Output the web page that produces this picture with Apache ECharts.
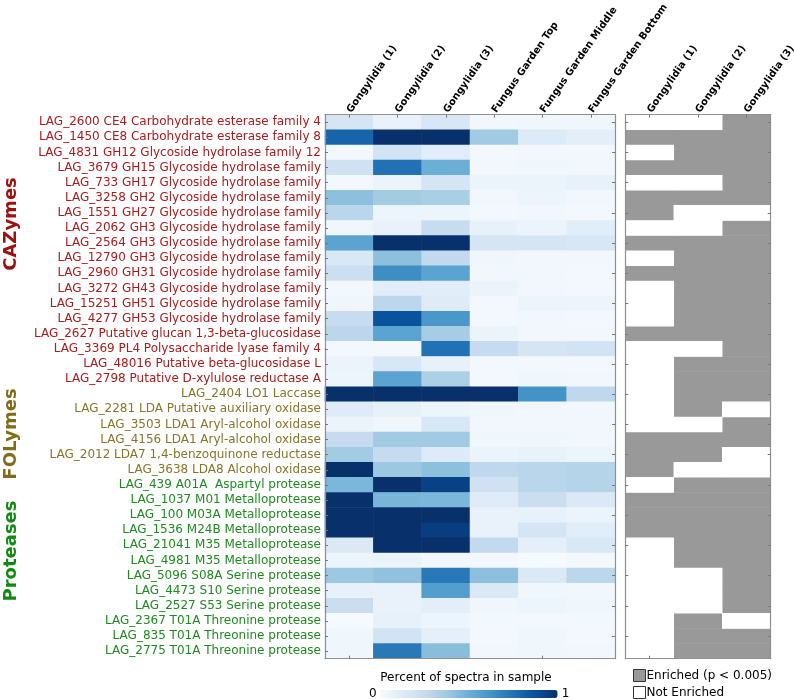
<!DOCTYPE html>
<html>
<head>
<meta charset="utf-8">
<script src="https://cdn.jsdelivr.net/npm/echarts@6/dist/echarts.min.js"></script>
<style>
  html, body { margin: 0; padding: 0; background: #fff; }
  #chart { width: 794px; height: 700px; }
</style>
</head>
<body>
<div id="chart"></div>
<script>
// row labels, top to bottom
const rowLabels = [
  'LAG_2600 CE4 Carbohydrate esterase family 4',
  'LAG_1450 CE8 Carbohydrate esterase family 8',
  'LAG_4831 GH12 Glycoside hydrolase family 12',
  'LAG_3679 GH15 Glycoside hydrolase family',
  'LAG_733 GH17 Glycoside hydrolase family',
  'LAG_3258 GH2 Glycoside hydrolase family',
  'LAG_1551 GH27 Glycoside hydrolase family',
  'LAG_2062 GH3 Glycoside hydrolase family',
  'LAG_2564 GH3 Glycoside hydrolase family',
  'LAG_12790 GH3 Glycoside hydrolase family',
  'LAG_2960 GH31 Glycoside hydrolase family',
  'LAG_3272 GH43 Glycoside hydrolase family',
  'LAG_15251 GH51 Glycoside hydrolase family',
  'LAG_4277 GH53 Glycoside hydrolase family',
  'LAG_2627 Putative glucan 1,3-beta-glucosidase',
  'LAG_3369 PL4 Polysaccharide lyase family 4',
  'LAG_48016 Putative beta-glucosidase L',
  'LAG_2798 Putative D-xylulose reductase A',
  'LAG_2404 LO1 Laccase',
  'LAG_2281 LDA Putative auxiliary oxidase',
  'LAG_3503 LDA1 Aryl-alcohol oxidase',
  'LAG_4156 LDA1 Aryl-alcohol oxidase',
  'LAG_2012 LDA7 1,4-benzoquinone reductase',
  'LAG_3638 LDA8 Alcohol oxidase',
  'LAG_439 A01A  Aspartyl protease',
  'LAG_1037 M01 Metalloprotease',
  'LAG_100 M03A Metalloprotease',
  'LAG_1536 M24B Metalloprotease',
  'LAG_21041 M35 Metalloprotease',
  'LAG_4981 M35 Metalloprotease',
  'LAG_5096 S08A Serine protease',
  'LAG_4473 S10 Serine protease',
  'LAG_2527 S53 Serine protease',
  'LAG_2367 T01A Threonine protease',
  'LAG_835 T01A Threonine protease',
  'LAG_2775 T01A Threonine protease'
]

const groupNames = ['CAZymes', 'FOLymes', 'Proteases']
const groupCounts = [18, 6, 12]
const groupLabelColors = ['#9e1010', '#7f6d1c', '#128a12']
const groupRowColors = ['#a81c1c', '#85752a', '#1f8a1f']

const sampleLabels = ['Gongylidia (1)', 'Gongylidia (2)', 'Gongylidia (3)',
  'Fungus Garden Top', 'Fungus Garden Middle', 'Fungus Garden Bottom']
const enrichLabels = ['Gongylidia (1)', 'Gongylidia (2)', 'Gongylidia (3)']

// percent of spectra in sample, one row per protein
const spectra = [
  [0.17, 0.07, 0.16, 0.03, 0.04, 0.04],
  [0.80, 1.00, 1.00, 0.37, 0.13, 0.10],
  [0.02, 0.19, 0.11, 0.02, 0.03, 0.03],
  [0.20, 0.75, 0.50, 0.03, 0.04, 0.03],
  [0.02, 0.06, 0.17, 0.06, 0.06, 0.08],
  [0.42, 0.36, 0.34, 0.03, 0.05, 0.03],
  [0.29, 0.05, 0.05, 0.02, 0.03, 0.02],
  [0.04, 0.07, 0.24, 0.08, 0.06, 0.11],
  [0.55, 1.00, 1.00, 0.17, 0.17, 0.16],
  [0.15, 0.42, 0.26, 0.04, 0.03, 0.03],
  [0.22, 0.64, 0.55, 0.03, 0.03, 0.02],
  [0.02, 0.11, 0.11, 0.06, 0.03, 0.02],
  [0.04, 0.28, 0.12, 0.02, 0.05, 0.05],
  [0.24, 0.87, 0.60, 0.02, 0.03, 0.02],
  [0.28, 0.55, 0.35, 0.06, 0.03, 0.03],
  [0.02, 0.02, 0.75, 0.25, 0.17, 0.19],
  [0.06, 0.16, 0.08, 0.02, 0.02, 0.02],
  [0.05, 0.55, 0.33, 0.02, 0.04, 0.03],
  [1.00, 1.00, 1.00, 1.00, 0.62, 0.27],
  [0.12, 0.08, 0.05, 0.04, 0.03, 0.03],
  [0.06, 0.04, 0.16, 0.03, 0.03, 0.03],
  [0.25, 0.37, 0.37, 0.04, 0.04, 0.03],
  [0.36, 0.25, 0.13, 0.06, 0.07, 0.05],
  [1.00, 0.38, 0.42, 0.27, 0.29, 0.30],
  [0.46, 1.00, 0.93, 0.20, 0.29, 0.30],
  [1.00, 0.47, 0.46, 0.12, 0.23, 0.14],
  [1.00, 1.00, 1.00, 0.07, 0.08, 0.06],
  [1.00, 1.00, 0.95, 0.07, 0.17, 0.11],
  [0.14, 1.00, 1.00, 0.26, 0.09, 0.15],
  [0.05, 0.06, 0.03, 0.02, 0.01, 0.02],
  [0.38, 0.41, 0.72, 0.42, 0.14, 0.28],
  [0.08, 0.07, 0.57, 0.14, 0.04, 0.03],
  [0.23, 0.07, 0.10, 0.04, 0.05, 0.04],
  [0.01, 0.08, 0.05, 0.02, 0.02, 0.02],
  [0.04, 0.19, 0.09, 0.02, 0.04, 0.02],
  [0.04, 0.72, 0.43, 0.03, 0.04, 0.03]
]

// 1 = enriched (p < 0.005)
const enriched = [
  [0, 0, 1], [1, 1, 1], [0, 1, 1], [1, 1, 1], [0, 0, 1], [1, 1, 1],
  [1, 0, 0], [0, 0, 1], [1, 1, 1], [0, 1, 1], [1, 1, 1], [0, 1, 1],
  [0, 1, 1], [0, 1, 1], [1, 1, 1], [0, 0, 1], [0, 1, 1], [0, 1, 1],
  [0, 1, 1], [0, 1, 0], [0, 0, 1], [1, 1, 1], [1, 1, 0], [1, 0, 0],
  [0, 1, 1], [1, 1, 1], [1, 1, 1], [1, 1, 1], [0, 1, 1], [0, 1, 1],
  [0, 0, 1], [0, 0, 1], [0, 0, 1], [0, 1, 0], [0, 1, 1], [0, 1, 1]
]

const blues = ['#f7fbff', '#deebf7', '#c6dbef', '#9ecae1', '#6baed6',
  '#4292c6', '#2171b5', '#08519c', '#08306b']

const rowGroup = []
groupCounts.forEach((n, g) => { for (let i = 0; i < n; i++) rowGroup.push(g) })

const heatData = []
spectra.forEach((row, r) => row.forEach((v, c) => heatData.push([c, r, v])))
const enrichedData = []
const notEnrichedData = []
enriched.forEach((row, r) => row.forEach((v, c) => {
  (v ? enrichedData : notEnrichedData).push([c, r, v])
}))

const frame = '#8f8f8f'
const tick = { show: true, inside: true, length: 3, alignWithLabel: true, lineStyle: { color: '#777' } }
const line = { show: true, lineStyle: { color: frame, width: 1.2 } }
const topLabel = { interval: 0, rotate: -55, margin: 3, fontSize: 10, fontWeight: 'bold', color: '#000' }

const chart = echarts.init(document.getElementById('chart'), null, { renderer: 'canvas' })

const option = {
  animation: false,
  backgroundColor: '#fff',
  textStyle: { fontFamily: 'DejaVu Sans' },
  grid: [
    { left: 325, top: 114.7, width: 290, height: 544, outerBoundsMode: 'none', containLabel: false },
    { left: 625.3, top: 114.7, width: 145.4, height: 544, outerBoundsMode: 'none', containLabel: false }
  ],
  xAxis: [
    {
      type: 'category', gridIndex: 0, position: 'top', data: sampleLabels, z: 10,
      axisLine: line, axisTick: tick, splitLine: { show: false }, axisLabel: topLabel
    },
    {
      type: 'category', gridIndex: 0, position: 'bottom', data: sampleLabels, z: 10,
      axisLine: line, axisTick: tick, axisLabel: { show: false }
    },
    {
      type: 'category', gridIndex: 1, position: 'top', data: enrichLabels, z: 10,
      axisLine: line, axisTick: tick, axisLabel: topLabel
    },
    {
      type: 'category', gridIndex: 1, position: 'bottom', data: enrichLabels, z: 10,
      axisLine: line, axisTick: tick, axisLabel: { show: false }
    }
  ],
  yAxis: [
    {
      type: 'category', gridIndex: 0, position: 'left', inverse: true, data: rowLabels, z: 10,
      axisLine: line, axisTick: tick,
      axisLabel: {
        interval: 0, margin: 4, fontSize: 12,
        color: (v, i) => groupRowColors[rowGroup[i]]
      }
    },
    {
      type: 'category', gridIndex: 0, position: 'right', inverse: true, data: rowLabels, z: 10,
      axisLine: line, axisTick: tick, axisLabel: { show: false }
    },
    {
      type: 'category', gridIndex: 1, position: 'left', inverse: true, data: rowLabels, z: 10,
      axisLine: line, axisTick: tick, axisLabel: { show: false }
    },
    {
      type: 'category', gridIndex: 1, position: 'right', inverse: true, data: rowLabels, z: 10,
      axisLine: line, axisTick: tick, axisLabel: { show: false }
    }
  ],
  visualMap: {
    type: 'continuous', seriesIndex: 0, min: 0, max: 1, calculable: false,
    orient: 'horizontal', left: 369, top: 688, padding: 0, itemWidth: 8, itemHeight: 177,
    text: ['1', '0'], textGap: 4, textStyle: { fontSize: 12, color: '#000' },
    inRange: { color: blues }
  },
  legend: {
    orient: 'vertical', left: 633, top: 669, itemWidth: 12, itemHeight: 12, itemGap: 4,
    padding: 0, icon: 'rect', textStyle: { fontSize: 12, color: '#000', padding: [0, 0, 0, -4] },
    data: [
      { name: 'Enriched (p < 0.005)', itemStyle: { color: '#999', borderColor: '#333', borderWidth: 1 } },
      { name: 'Not Enriched', itemStyle: { color: '#fff', borderColor: '#333', borderWidth: 1 } }
    ]
  },
  graphic: [
    {
      type: 'text', x: 466, y: 678,
      style: { text: 'Percent of spectra in sample', fontSize: 12, fontFamily: 'DejaVu Sans', fill: '#000', align: 'center', verticalAlign: 'middle' }
    },
    ...groupNames.map((name, g) => ({
      type: 'text', x: 11, y: [224, 434, 551][g], rotation: Math.PI / 2,
      style: {
        text: name, fontSize: 18, fontWeight: 'bold', fontFamily: 'DejaVu Sans',
        fill: groupLabelColors[g], align: 'center', verticalAlign: 'middle'
      }
    }))
  ],
  series: [
    {
      type: 'heatmap', xAxisIndex: 0, yAxisIndex: 0, data: heatData,
      itemStyle: { borderWidth: 0 }, emphasis: { disabled: true }
    },
    {
      name: 'Enriched (p < 0.005)', type: 'heatmap', xAxisIndex: 2, yAxisIndex: 2, data: enrichedData,
      itemStyle: { color: '#999' }, emphasis: { disabled: true }
    },
    {
      name: 'Not Enriched', type: 'heatmap', xAxisIndex: 2, yAxisIndex: 2, data: notEnrichedData,
      itemStyle: { color: '#fff' }, emphasis: { disabled: true }
    }
  ]
}

chart.setOption(option)
</script>
</body>
</html>
